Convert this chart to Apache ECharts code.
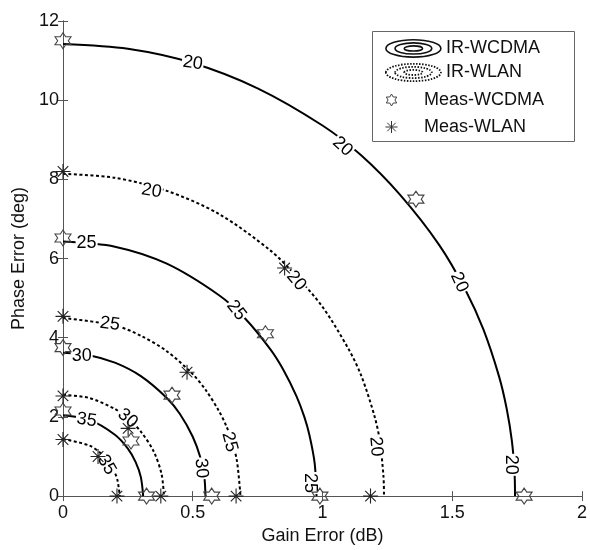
<!DOCTYPE html>
<html>
<head>
<meta charset="utf-8">
<title>IRR contours</title>
<script src="https://cdn.jsdelivr.net/npm/echarts@6/dist/echarts.min.js"></script>
<style>
  html, body { margin: 0; padding: 0; background: #fff; }
  #main { width: 590px; height: 550px; }
</style>
</head>
<body>
<div id="main"></div>
<script>
// contour lines: [gain error dB, phase error deg]
var wcdma20 = [[0, 11.42], [0.25, 11.3], [0.5, 10.94], [0.75, 10.3], [1.0, 9.36], [1.15, 8.6], [1.3, 7.6], [1.45, 6.34], [1.55, 5.22], [1.62, 4.21], [1.68, 3.03], [1.71, 2.2], [1.73, 1.38], [1.74, 0.6], [1.742, 0]];
var wcdma25 = [[0, 6.43], [0.2, 6.3], [0.4, 5.87], [0.6, 5.08], [0.7, 4.5], [0.8, 3.7], [0.85, 3.18], [0.9, 2.52], [0.93, 2.0], [0.95, 1.53], [0.97, 0.82], [0.977, 0]];
var wcdma30 = [[0, 3.62], [0.1, 3.56], [0.2, 3.37], [0.3, 3.03], [0.4, 2.48], [0.45, 2.08], [0.5, 1.5], [0.53, 0.96], [0.545, 0.46], [0.549, 0]];
var wcdma35 = [[0, 2.04], [0.1, 1.93], [0.2, 1.55], [0.25, 1.2], [0.28, 0.86], [0.3, 0.48], [0.309, 0]];
var wlan20 = [[0, 8.14], [0.2, 8.04], [0.4, 7.71], [0.6, 7.13], [0.8, 6.2], [0.9, 5.55], [1.0, 4.78], [1.1, 3.72], [1.15, 3.03], [1.2, 2.03], [1.22, 1.43], [1.235, 0.5], [1.237, 0]];
var wlan25 = [[0, 4.5], [0.2, 4.31], [0.3, 4.05], [0.4, 3.66], [0.5, 3.08], [0.55, 2.68], [0.6, 2.16], [0.63, 1.76], [0.65, 1.4], [0.67, 0.9], [0.684, 0]];
var wlan30 = [[0, 2.56], [0.1, 2.48], [0.2, 2.2], [0.25, 1.96], [0.3, 1.63], [0.35, 1.12], [0.38, 0.55], [0.389, 0]];
var wlan35 = [[0, 1.44], [0.1, 1.28], [0.15, 1.05], [0.2, 0.58], [0.21, 0.4], [0.219, 0]];

// inline contour labels: [gain, phase, text, angle]
var wcdmaLabels = [
  [0.5, 10.94, '20', -8], [1.077, 8.83, '20', -42], [1.527, 5.4, '20', -65], [1.725, 0.79, '20', -90],
  [0.091, 6.39, '25', 0], [0.668, 4.69, '25', -52], [0.95, 0.33, '25', -90],
  [0.072, 3.55, '30', 0], [0.533, 0.7, '30', -85],
  [0.091, 1.92, '35', -8]
];
var wlanLabels = [
  [0.341, 7.71, '20', -10], [0.899, 5.44, '20', -50], [1.206, 1.25, '20', -85],
  [0.181, 4.35, '25', -8], [0.642, 1.37, '25', -75],
  [0.249, 1.96, '30', -40],
  [0.168, 0.79, '35', -60]
];

// measured points
var measWcdma = [[0, 11.5], [1.36, 7.5], [0, 6.52], [0.78, 4.1], [0.99, 0], [1.777, 0], [0, 3.75], [0.42, 2.55], [0, 2.15], [0.262, 1.39], [0.322, 0], [0.573, 0]];
var measWlan = [[0, 8.2], [0.854, 5.76], [0, 4.54], [0.478, 3.13], [0, 2.53], [0.251, 1.71], [0, 1.43], [0.135, 1.0], [0.208, 0], [0.377, 0], [0.667, 0], [1.185, 0]];

var xTicks = { min: 0, max: 2, interval: 0.5 };
var yTicks = { min: 0, max: 12, interval: 2 };

(function () {
  var myChart = echarts.init(document.getElementById('main'));
  var font = 'Liberation Sans, Arial, sans-serif';

  // hexagram and asterisk markers
  var starPath = 'path://M10,0L12.887,5L18.66,5L15.774,10L18.66,15L12.887,15L10,20L7.113,15L1.34,15L4.226,10L1.34,5L7.113,5Z';
  var astPath = 'path://M10,0L10,20M0,10L20,10M2.93,2.93L17.07,17.07M17.07,2.93L2.93,17.07';
  var ringsPath = 'path://M0.5,9A27,8.5 0 1 1 54.5,9A27,8.5 0 1 1 0.5,9ZM9.5,9A18,5.5 0 1 1 45.5,9A18,5.5 0 1 1 9.5,9ZM18.5,9A9,2.5 0 1 1 36.5,9A9,2.5 0 1 1 18.5,9Z';
  var wlanDash = [3, 2.5];

  function contour(name, data, dash) {
    return {
      name: name,
      type: 'line',
      data: data,
      showSymbol: false,
      smooth: 0.3,
      z: 2,
      lineStyle: { color: '#000', width: 2, type: dash },
      itemStyle: { color: '#000' }
    };
  }

  function labelItems(list) {
    return list.map(function (l) {
      return { value: [l[0], l[1], l[2]], label: { rotate: l[3] } };
    });
  }

  var axisCommon = {
    type: 'value',
    splitLine: { show: false },
    axisLine: { show: true, lineStyle: { color: '#555', width: 1 } },
    axisTick: { show: true, inside: true, length: 5, lineStyle: { color: '#555' } }
  };

  var option = {
    animation: false,
    backgroundColor: '#fff',
    textStyle: { fontFamily: font },
    grid: { left: 63, right: 7, top: 21, bottom: 52 },
    graphic: [{
      type: 'rect',
      left: 372, top: 31,
      shape: { width: 202, height: 110 },
      style: { fill: '#fff', stroke: '#666', lineWidth: 1 },
      z: 50
    }],
    legend: [{
      data: [
        { name: 'IR-WCDMA', icon: ringsPath, itemStyle: { color: 'transparent', borderColor: '#111', borderWidth: 1.6 } },
        { name: 'IR-WLAN', icon: ringsPath, itemStyle: { color: 'transparent', borderColor: '#111', borderWidth: 1.8, borderType: [1.5, 1.5] } }
      ],
      orient: 'vertical',
      left: 385, top: 39,
      padding: 0,
      itemWidth: 55, itemHeight: 18, itemGap: 5,
      selectedMode: false,
      z: 60,
      textStyle: { fontSize: 18, color: '#111', fontFamily: font }
    }, {
      data: [
        { name: 'Meas-WCDMA', itemStyle: { color: 'transparent', borderColor: '#444', borderWidth: 1, opacity: 1 } },
        { name: 'Meas-WLAN', itemStyle: { color: 'transparent', borderColor: '#333', borderWidth: 1, opacity: 1 } }
      ],
      orient: 'vertical',
      left: 385, top: 91,
      padding: 0,
      itemWidth: 55, itemHeight: 12, itemGap: 9,
      selectedMode: false,
      z: 60,
      textStyle: { fontSize: 18, color: '#111', fontFamily: font }
    }],
    xAxis: [
      Object.assign({}, axisCommon, xTicks, {
        position: 'bottom',
        name: 'Gain Error (dB)',
        nameLocation: 'middle',
        nameGap: 28,
        nameTextStyle: { fontSize: 18, color: '#111' },
        axisLabel: { fontSize: 18, color: '#111', margin: 8 }
      }),
      Object.assign({}, axisCommon, xTicks, { position: 'top', axisLabel: { show: false } })
    ],
    yAxis: [
      Object.assign({}, axisCommon, yTicks, {
        position: 'left',
        name: 'Phase Error (deg)',
        nameLocation: 'middle',
        nameGap: 31,
        nameTextStyle: { fontSize: 18, color: '#111' },
        axisLabel: { fontSize: 18, color: '#111', margin: 4 }
      }),
      Object.assign({}, axisCommon, yTicks, { position: 'right', axisLabel: { show: false } })
    ],
    series: [
      contour('IR-WCDMA', wcdma20, 'solid'),
      contour('IR-WCDMA', wcdma25, 'solid'),
      contour('IR-WCDMA', wcdma30, 'solid'),
      contour('IR-WCDMA', wcdma35, 'solid'),
      contour('IR-WLAN', wlan20, wlanDash),
      contour('IR-WLAN', wlan25, wlanDash),
      contour('IR-WLAN', wlan30, wlanDash),
      contour('IR-WLAN', wlan35, wlanDash),
      {
        name: 'contour labels',
        type: 'scatter',
        data: labelItems(wcdmaLabels.concat(wlanLabels)),
        symbolSize: 1,
        itemStyle: { color: 'transparent', opacity: 1 },
        z: 5,
        silent: true,
        label: {
          show: true,
          position: 'inside',
          formatter: function (p) { return p.value[2]; },
          fontSize: 18,
          color: '#000',
          opacity: 1,
          fontFamily: font,
          backgroundColor: '#fff',
          padding: [0, 1]
        }
      },
      {
        name: 'Meas-WCDMA',
        type: 'scatter',
        data: measWcdma,
        symbol: starPath,
        symbolSize: 16,
        z: 10,
        itemStyle: { color: 'transparent', borderColor: '#444', borderWidth: 1.1, opacity: 1 }
      },
      {
        name: 'Meas-WLAN',
        type: 'scatter',
        data: measWlan,
        symbol: astPath,
        symbolSize: 15,
        z: 10,
        itemStyle: { color: 'transparent', borderColor: '#222', borderWidth: 1.1, opacity: 1 }
      }
    ]
  };

  myChart.setOption(option);
  window.addEventListener('resize', function () {
    myChart.resize();
  });
})();
</script>
</body>
</html>
